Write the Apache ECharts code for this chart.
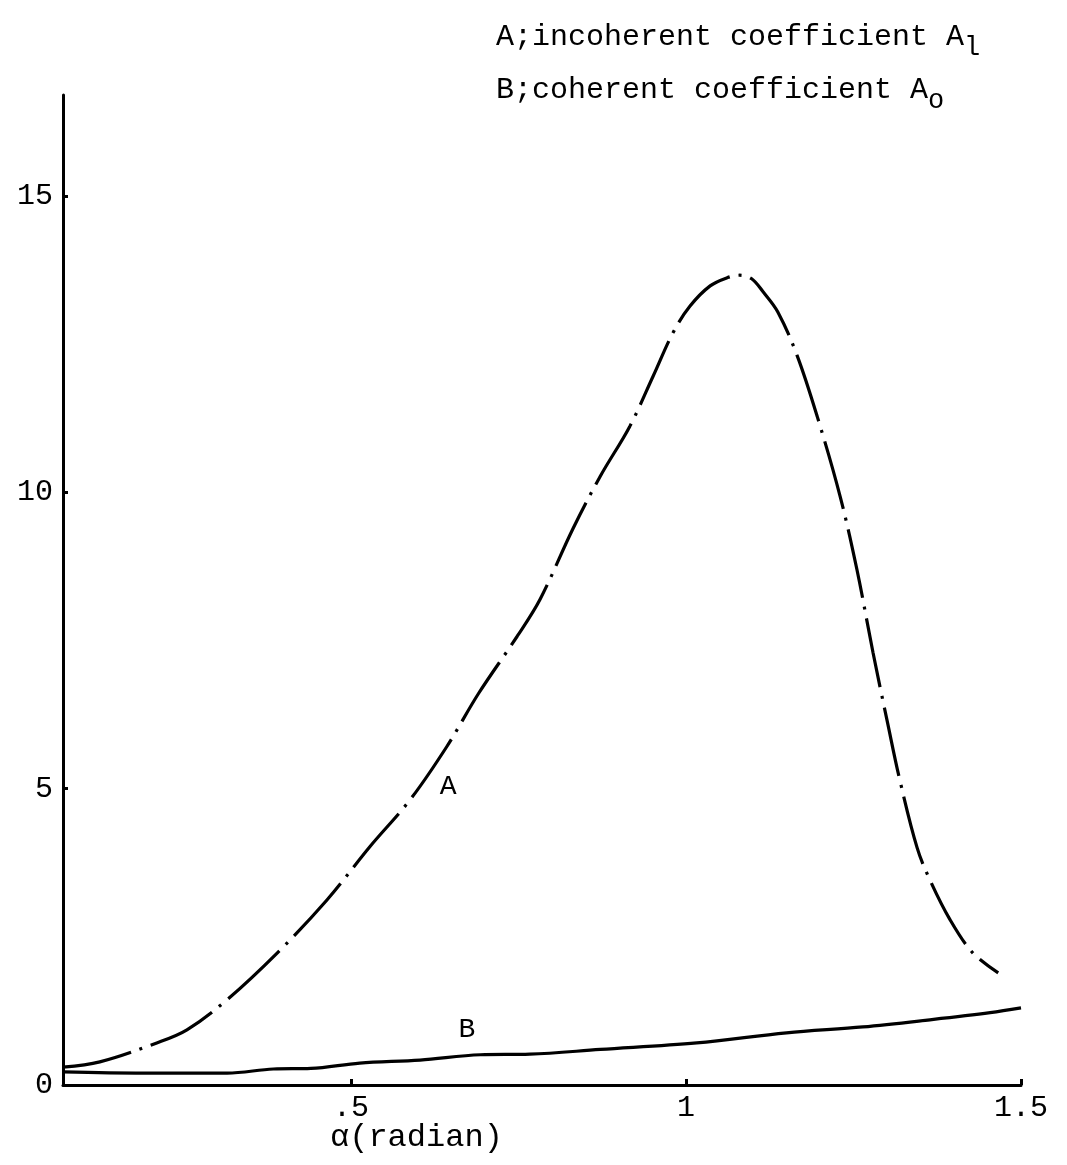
<!DOCTYPE html>
<html>
<head>
<meta charset="utf-8">
<script src="https://cdn.jsdelivr.net/npm/echarts@6/dist/echarts.min.js"></script>
<style>
html,body{margin:0;padding:0;background:#fff;}
#chart{width:1067px;height:1165px;}
</style>
</head>
<body>
<div id="chart"></div>
<script>
// Curve A: incoherent coefficient A1 (alpha in radians, value)
const alphaA = [0.07,0.125,0.21,0.255,0.315,0.39,0.464,0.528,0.588,0.643,0.69,0.748,0.782,0.831,0.872,0.916,0.951,0.981,1.006,1.036,1.062,1.08,1.098,1.115,1.137,1.166,1.196,1.23,1.255,1.279,1.301,1.319,1.345,1.364,1.394,1.428,1.466];
const valuesA = [0.3,0.39,0.71,0.93,1.44,2.23,3.12,4.02,4.81,5.71,6.6,7.57,8.19,9.38,10.27,11.11,11.96,12.7,13.14,13.48,13.62,13.66,13.6,13.38,13.04,12.3,11.27,9.93,8.7,7.3,6.1,5.15,4.0,3.46,2.79,2.23,1.89];
// Curve B: coherent coefficient A0
const alphaB = [0.07,0.19,0.315,0.384,0.44,0.513,0.603,0.693,0.767,0.872,1.016,1.15,1.264,1.364,1.454,1.5];
const valuesB = [0.22,0.2,0.2,0.27,0.28,0.37,0.42,0.51,0.52,0.6,0.71,0.88,0.98,1.1,1.22,1.3];
// Tick labels
const xTicks = [0.5, 1, 1.5];
const xTickLabels = ['.5', '1', '1.5'];
const yTicks = [0, 5, 10, 15];
// Curve name labels
const curveLabels = [{name:'A', x:0.645, y:5.03}, {name:'B', x:0.673, y:0.93}];
const legendLines = [
  {main:'A;incoherent coefficient A', sub:'l'},
  {main:'B;coherent coefficient A', sub:'o'}
];
const xName = 'α(radian)';

const FONT = '"Liberation Mono", "DejaVu Sans Mono", monospace';
const chart = echarts.init(document.getElementById('chart'));
const pair = (xs, ys) => xs.map((x, i) => [x, ys[i]]);

chart.setOption({
  backgroundColor: '#ffffff',
  animation: false,
  grid: {left: 63, right: 46, top: 95, bottom: 80, containLabel: false},
  xAxis: {
    type: 'value', min: 0.07, max: 1.5,
    axisLine: {show: true, onZero: false, lineStyle: {color: '#000', width: 3}},
    axisTick: {show: true, inside: true, length: 6, lineStyle: {color: '#000', width: 3}, customValues: xTicks},
    axisLabel: {
      color: '#000', fontFamily: FONT, fontSize: 30, margin: 8,
      customValues: xTicks,
      formatter: v => { const i = xTicks.findIndex(t => Math.abs(t - v) < 1e-6); return i >= 0 ? xTickLabels[i] : ''; }
    },
    splitLine: {show: false}
  },
  yAxis: {
    type: 'value', min: 0, max: 16.7,
    axisLine: {show: true, lineStyle: {color: '#000', width: 3}},
    axisTick: {show: true, inside: true, length: 5, lineStyle: {color: '#000', width: 3}, customValues: yTicks},
    axisLabel: {color: '#000', fontFamily: FONT, fontSize: 30, margin: 10, customValues: yTicks},
    splitLine: {show: false}
  },
  graphic: legendLines.map((l, i) => ({
    type: 'text', left: 496, top: 22 + i * 53,
    style: {
      text: '{m|' + l.main + '}{s|' + l.sub + '}',
      rich: {
        m: {fontFamily: FONT, fontSize: 30, fill: '#000'},
        s: {fontFamily: FONT, fontSize: 27, fill: '#000', padding: [22, 0, 0, 0]}
      }
    }
  })).concat([{
    type: 'text', left: 330, top: 1122,
    style: {text: xName, fontFamily: FONT, fontSize: 32, fill: '#000'}
  }]),
  series: [
    {
      name: 'A', type: 'line', data: pair(alphaA, valuesA),
      smooth: 0.35, symbol: 'none',
      lineStyle: {color: '#000', width: 3.2, type: [70, 9, 3, 9]}
    },
    {
      name: 'B', type: 'line', data: pair(alphaB, valuesB),
      smooth: 0.35, symbol: 'none',
      lineStyle: {color: '#000', width: 3.2, type: 'solid'}
    },
    {
      name: 'labels', type: 'scatter', symbolSize: 0,
      itemStyle: {opacity: 1},
      data: curveLabels.map(c => ({value: [c.x, c.y], name: c.name})),
      label: {show: true, formatter: p => p.name, position: 'inside', color: '#000', fontFamily: FONT, fontSize: 28},
      silent: true
    }
  ]
});
</script>
</body>
</html>
